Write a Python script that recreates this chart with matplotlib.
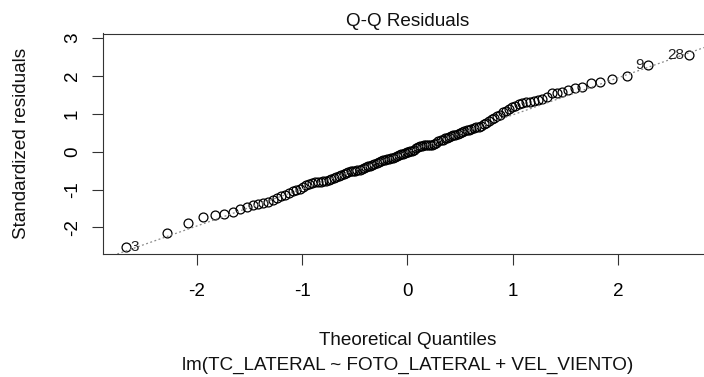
import matplotlib
matplotlib.use("Agg")
import matplotlib.pyplot as plt
import numpy as np
from statistics import NormalDist

# sorted standardized residuals (n = 134)
std_resid = [
    -2.52, -2.14, -1.87, -1.73, -1.68, -1.65, -1.58, -1.50, -1.46, -1.40,
    -1.37, -1.35, -1.32, -1.28, -1.23, -1.18, -1.13, -1.09, -1.04, -1.01,
    -0.98, -0.93, -0.89, -0.86, -0.82, -0.81, -0.80, -0.79, -0.78, -0.77,
    -0.75, -0.72, -0.70, -0.67, -0.65, -0.61, -0.58, -0.55, -0.54, -0.52,
    -0.51, -0.50, -0.48, -0.47, -0.45, -0.43, -0.41, -0.39, -0.37, -0.35,
    -0.32, -0.29, -0.26, -0.24, -0.22, -0.21, -0.20, -0.18, -0.17, -0.16,
    -0.14, -0.12, -0.09, -0.07, -0.06, -0.04, -0.02, 0.00, 0.01, 0.02,
    0.05, 0.09, 0.13, 0.15, 0.16, 0.17, 0.17, 0.18, 0.18, 0.19,
    0.21, 0.24, 0.27, 0.30, 0.32, 0.35, 0.37, 0.39, 0.41, 0.43,
    0.45, 0.47, 0.49, 0.52, 0.54, 0.56, 0.58, 0.60, 0.62, 0.64,
    0.66, 0.68, 0.72, 0.77, 0.82, 0.86, 0.90, 0.94, 0.98, 1.04,
    1.08, 1.13, 1.17, 1.21, 1.25, 1.29, 1.31, 1.32, 1.34, 1.37,
    1.39, 1.45, 1.54, 1.56, 1.58, 1.64, 1.68, 1.72, 1.81, 1.85,
    1.91, 1.99, 2.30, 2.54,
]
# observation ids of the three largest |residuals| (largest first)
id_labels = ["28", "3", "9"]

title = "Q-Q Residuals"
x_label = "Theoretical Quantiles"
sub_label = "lm(TC_LATERAL ~ FOTO_LATERAL + VEL_VIENTO)"
y_label = "Standardized residuals"
x_ticks = [-2, -1, 0, 1, 2]
y_ticks = [-2, -1, 0, 1, 2, 3]

plt.rcParams['font.family'] = ['Liberation Sans', 'DejaVu Sans']
FS = 13.6

y = np.array(std_resid)
n = len(y)
nd = NormalDist()
a = 3 / 8 if n <= 10 else 0.5
theo = np.array([nd.inv_cdf((i + 1 - a) / (n + 1 - 2 * a)) for i in range(n)])

# qqline through the quartiles
yq = np.quantile(y, [0.25, 0.75])
xq = np.array([nd.inv_cdf(0.25), nd.inv_cdf(0.75)])
slope = (yq[1] - yq[0]) / (xq[1] - xq[0])
icept = yq[0] - slope * xq[0]

fig = plt.figure(figsize=(7.04, 3.77), dpi=100)
ax = fig.add_axes([103 / 704, 123 / 377, 609 / 704, 220.5 / 377])

ax.plot(theo, y, 'o', mfc='none', mec='black', ms=6.4, mew=0.9)
ax.axline((0, icept), slope=slope, color='#8a8a8a', lw=0.9, ls=(0, (1.5, 2)))

xr = theo.max() - theo.min()
ax.set_xlim(theo.min() - 0.04 * xr, theo.max() + 0.04 * xr)
ax.set_ylim(-2.70, 3.12)
ax.set_xticks(x_ticks)
ax.set_yticks(y_ticks)
ax.set_xticklabels([str(t) for t in x_ticks])
ax.set_yticklabels([str(t) for t in y_ticks])
ax.tick_params(axis='both', length=8, width=0.8, color='#333333', labelsize=FS)
ax.tick_params(axis='x', pad=13)
ax.tick_params(axis='y', pad=8)
for lab in ax.get_yticklabels():
    lab.set_rotation(90)
    lab.set_va('center')
for sp in ax.spines.values():
    sp.set_linewidth(0.8)
    sp.set_color('#333333')

# label the three most extreme points
order = np.argsort(-np.abs(y))[:3]
mid = (theo.min() + theo.max()) / 2
for lab, idx in zip(id_labels, order):
    right_side = theo[idx] > mid
    ax.annotate(lab, (theo[idx], y[idx]), xytext=(-3.5 if right_side else 3.5, 0),
                textcoords='offset points', ha='right' if right_side else 'left',
                va='center', fontsize=11, color='#222222')

ax.set_title(title, fontsize=FS, pad=5.4, color='#111111')
ax.set_xlabel(x_label, fontsize=FS, color='#111111')
ax.xaxis.label.set_va('baseline')
ax.xaxis.set_label_coords(0.5, (254 - 345) / 220.5)
ax.set_ylabel(y_label, fontsize=FS, color='#111111')
ax.yaxis.label.set_va('center')
ax.yaxis.set_label_coords((22 - 103) / 609, 0.5)
fig.text(407.5 / 704, (377 - 370) / 377, sub_label, fontsize=FS,
         ha='center', va='baseline', color='#111111')

fig.savefig('out.png', dpi=100)
